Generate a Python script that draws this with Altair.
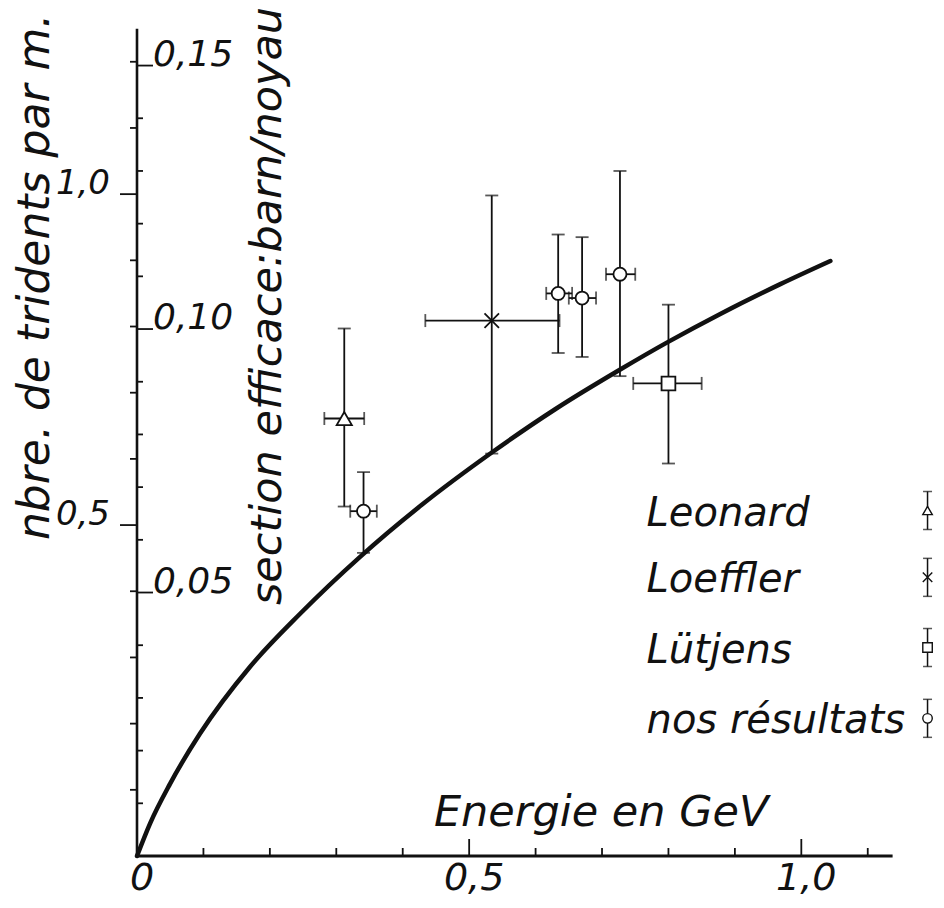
import altair as alt
import pandas as pd

# ---------------- data ----------------
# theoretical curve (Energie en GeV -> nbre. de tridents par m.)
curve_x = [0.0, 0.0196, 0.0497, 0.0949, 0.1702, 0.2455, 0.3358, 0.4292, 0.5346, 0.6295, 0.7274, 0.7982, 0.878, 0.9684, 1.0437]
curve_y = [0.0, 0.049, 0.109, 0.185, 0.286, 0.366, 0.452, 0.531, 0.610, 0.675, 0.735, 0.776, 0.819, 0.864, 0.899]

# measured points
pt_source = ["Leonard", "nos résultats", "Loeffler", "nos résultats", "nos résultats", "nos résultats", "Lütjens"]
pt_x   = [0.312, 0.341, 0.534, 0.634, 0.670, 0.727, 0.800]
pt_y   = [0.661, 0.521, 0.809, 0.850, 0.843, 0.879, 0.714]
pt_xlo = [0.282, 0.321, 0.434, 0.616, 0.650, 0.706, 0.747]
pt_xhi = [0.342, 0.361, 0.636, 0.655, 0.691, 0.750, 0.850]
pt_ylo = [0.528, 0.458, 0.608, 0.760, 0.754, 0.725, 0.593]
pt_yhi = [0.797, 0.580, 0.998, 0.939, 0.935, 1.035, 0.833]

legend_names = ["Leonard", "Loeffler", "Lütjens", "nos résultats"]

# axis ticks
x_ticks = [0.1, 0.2, 0.3, 0.4, 0.5, 0.6, 0.7, 0.8, 0.9, 1.0, 1.1]
x_major = [0.5, 1.0]
x_labels = ["0", "0,5", "1,0"]
x_label_vals = [0.0, 0.5, 1.0]
y_ticks = [0.1, 0.2, 0.3, 0.4, 0.5, 0.6, 0.7, 0.8, 0.9, 1.0, 1.1, 1.2]
y_major = [0.5, 1.0]
y_labels = ["0,5", "1,0"]
barn_ticks = [0.01, 0.02, 0.03, 0.04, 0.05, 0.06, 0.07, 0.08, 0.09, 0.10, 0.11, 0.12, 0.13, 0.14, 0.15]
barn_major = [0.05, 0.10, 0.15]
barn_labels = ["0,05", "0,10", "0,15"]
BARN_PER_TRIDENT = 0.1256   # section efficace (barn/noyau) for 1 trident par m.

# ---------------- layout ----------------
XMAX, YMAX = 1.135, 1.248
PW, PH = 754, 826
PXX = XMAX / PW   # data per px (x)
PXY = YMAX / PH   # data per px (y)

FONT = "DejaVu Sans"
INK = "#111111"

xs = alt.Scale(domain=[0, XMAX], nice=False, zero=False)
ys = alt.Scale(domain=[0, YMAX], nice=False, zero=False)

def X(f):
    return alt.X(f, type="quantitative", scale=xs, axis=None)

def Y(f):
    return alt.Y(f, type="quantitative", scale=ys, axis=None)

# ---- axes lines ----
axes_df = pd.DataFrame({"x": [0, 0], "x2": [XMAX, 0], "y": [0, 0], "y2": [0, YMAX], "w": [3.2, 2.6]})
axes = alt.Chart(axes_df).mark_rule(color=INK, strokeCap="square").encode(
    x=X("x"), x2="x2", y=Y("y"), y2="y2",
    strokeWidth=alt.StrokeWidth("w:Q", scale=None))

# ---- x ticks (pointing up) ----
xt = pd.DataFrame({"x": x_ticks})
xt["y2"] = [(17 if v in x_major else 8) * PXY for v in x_ticks]
xt["y"] = 0.0
xtick = alt.Chart(xt).mark_rule(color=INK, strokeWidth=1.8).encode(x=X("x"), y=Y("y"), y2="y2")

# ---- y ticks tridents (pointing left) ----
yt = pd.DataFrame({"y": y_ticks})
yt["x"] = [-(17 if v in y_major else 7) * PXX for v in y_ticks]
yt["x2"] = 0.0
ytick = alt.Chart(yt).mark_rule(color=INK, strokeWidth=1.8).encode(x=X("x"), x2="x2", y=Y("y"))

# ---- barn ticks (pointing right) ----
bt = pd.DataFrame({"b": barn_ticks})
bt["y"] = bt["b"] / BARN_PER_TRIDENT
bt["x2"] = [(16 if round(v, 2) in barn_major else 6) * PXX for v in barn_ticks]
bt["x"] = 0.0
btick = alt.Chart(bt).mark_rule(color=INK, strokeWidth=1.8).encode(x=X("x"), x2="x2", y=Y("y"))

# ---- tick labels ----
xl = pd.DataFrame({"v": x_label_vals, "t": x_labels})
xlab = alt.Chart(xl).mark_text(font=FONT, fontStyle="italic", fontSize=38, color=INK,
                               baseline="bottom", align="center", dx=5).encode(
    x=X("v"), y=alt.YDatum(-0.064, scale=ys, axis=None), text="t:N")

yl = pd.DataFrame({"v": y_major, "t": y_labels})
ylab = alt.Chart(yl).mark_text(font=FONT, fontStyle="italic", fontSize=34, color=INK,
                               baseline="alphabetic", align="right", dx=-27).encode(
    x=alt.XDatum(0, scale=xs, axis=None), y=Y("v"), text="t:N")

bl = pd.DataFrame({"b": barn_major, "t": barn_labels})
bl["v"] = bl["b"] / BARN_PER_TRIDENT
blab = alt.Chart(bl).mark_text(font=FONT, fontStyle="italic", fontSize=36, color=INK,
                               baseline="alphabetic", align="left", dx=16).encode(
    x=alt.XDatum(0, scale=xs, axis=None), y=Y("v"), text="t:N")

# ---- titles ----
def label(txt, x, y, angle=0, align="center", baseline="middle", size=43):
    return alt.Chart(pd.DataFrame({"t": [txt]})).mark_text(
        font=FONT, fontStyle="italic", fontSize=size, color=INK, angle=angle,
        align=align, baseline=baseline).encode(
        x=alt.XDatum(x, scale=xs, axis=None), y=alt.YDatum(y, scale=ys, axis=None), text="t:N")

t_left = label("nbre. de tridents par m.", -0.152, 0.875, angle=270, size=44)
t_barn = label("section efficace:barn/noyau", 0.197, 0.831, angle=270)
t_x = label("Energie en GeV", 0.447, 0.045, align="left", baseline="alphabetic")

# ---- curve ----
cdf = pd.DataFrame({"x": curve_x, "y": curve_y})
curve = alt.Chart(cdf).mark_line(color=INK, strokeWidth=4.5, interpolate="monotone",
                                 strokeCap="round").encode(x=X("x"), y=Y("y"))

# ---- data points with error bars ----
pdf = pd.DataFrame({"src": pt_source, "x": pt_x, "y": pt_y, "xlo": pt_xlo, "xhi": pt_xhi,
                    "ylo": pt_ylo, "yhi": pt_yhi})
vbar = alt.Chart(pdf).mark_rule(color=INK, strokeWidth=1.8).encode(x=X("x"), y=Y("ylo"), y2="yhi")
hbar = alt.Chart(pdf).mark_rule(color=INK, strokeWidth=1.8).encode(x=X("xlo"), x2="xhi", y=Y("y"))

vcaps = pd.concat([pdf[["x"]].assign(y=pdf["ylo"]), pdf[["x"]].assign(y=pdf["yhi"])])
hcaps = pd.concat([pdf[["y"]].assign(x=pdf["xlo"]), pdf[["y"]].assign(x=pdf["xhi"])])
vcap = alt.Chart(vcaps).mark_tick(orient="horizontal", size=13, thickness=1.8, color=INK).encode(x=X("x"), y=Y("y"))
hcap = alt.Chart(hcaps).mark_tick(orient="vertical", size=13, thickness=1.8, color=INK).encode(x=X("x"), y=Y("y"))

XPATH = "M-1,-1L1,1M1,-1L-1,1"
shape_scale = alt.Scale(domain=legend_names, range=["triangle-up", XPATH, "square", "circle"])
size_scale = alt.Scale(domain=legend_names, range=[230, 170, 140, 140])

marks = alt.Chart(pdf).mark_point(filled=False, fill="white", color=INK, strokeWidth=1.8, opacity=1).encode(
    x=X("x"), y=Y("y"),
    shape=alt.Shape("src:N", scale=shape_scale, legend=None),
    size=alt.Size("src:N", scale=size_scale, legend=None))

# ---- hand-drawn legend ----
ldf = pd.DataFrame({"src": legend_names})
ldf["y"] = [0.522, 0.421, 0.315, 0.208]
ldf["x"] = 1.190
ldf["tx"] = 0.767
ldf["ylo"] = ldf["y"] - 19 * PXY
ldf["yhi"] = ldf["y"] + 19 * PXY
leg_text = alt.Chart(ldf).mark_text(font=FONT, fontStyle="italic", fontSize=40, color=INK,
                                    align="left", baseline="alphabetic", dy=15).encode(
    x=X("tx"), y=Y("y"), text="src:N")
leg_bar = alt.Chart(ldf).mark_rule(color=INK, strokeWidth=1.5).encode(x=X("x"), y=Y("ylo"), y2="yhi")
lcaps = pd.concat([ldf[["x"]].assign(y=ldf["ylo"]), ldf[["x"]].assign(y=ldf["yhi"])])
leg_cap = alt.Chart(lcaps).mark_tick(orient="horizontal", size=9, thickness=1.5, color=INK).encode(x=X("x"), y=Y("y"))
leg_mark = alt.Chart(ldf).mark_point(filled=False, fill="white", color=INK, strokeWidth=1.4, opacity=1).encode(
    x=X("x"), y=Y("y"),
    shape=alt.Shape("src:N", scale=shape_scale, legend=None),
    size=alt.value(90))

chart = alt.layer(
    axes, xtick, ytick, btick, xlab, ylab, blab, t_left, t_barn, t_x,
    curve, vbar, hbar, vcap, hcap, marks,
    leg_text, leg_bar, leg_cap, leg_mark,
).properties(
    width=PW, height=PH,
    autosize=alt.AutoSizeParams(type="none"),
    padding={"left": 129, "top": 22, "right": 45, "bottom": 44},
    background="white",
).configure_view(stroke=None)

chart.save("out.html", embed_options={"renderer": "svg", "actions": False})
